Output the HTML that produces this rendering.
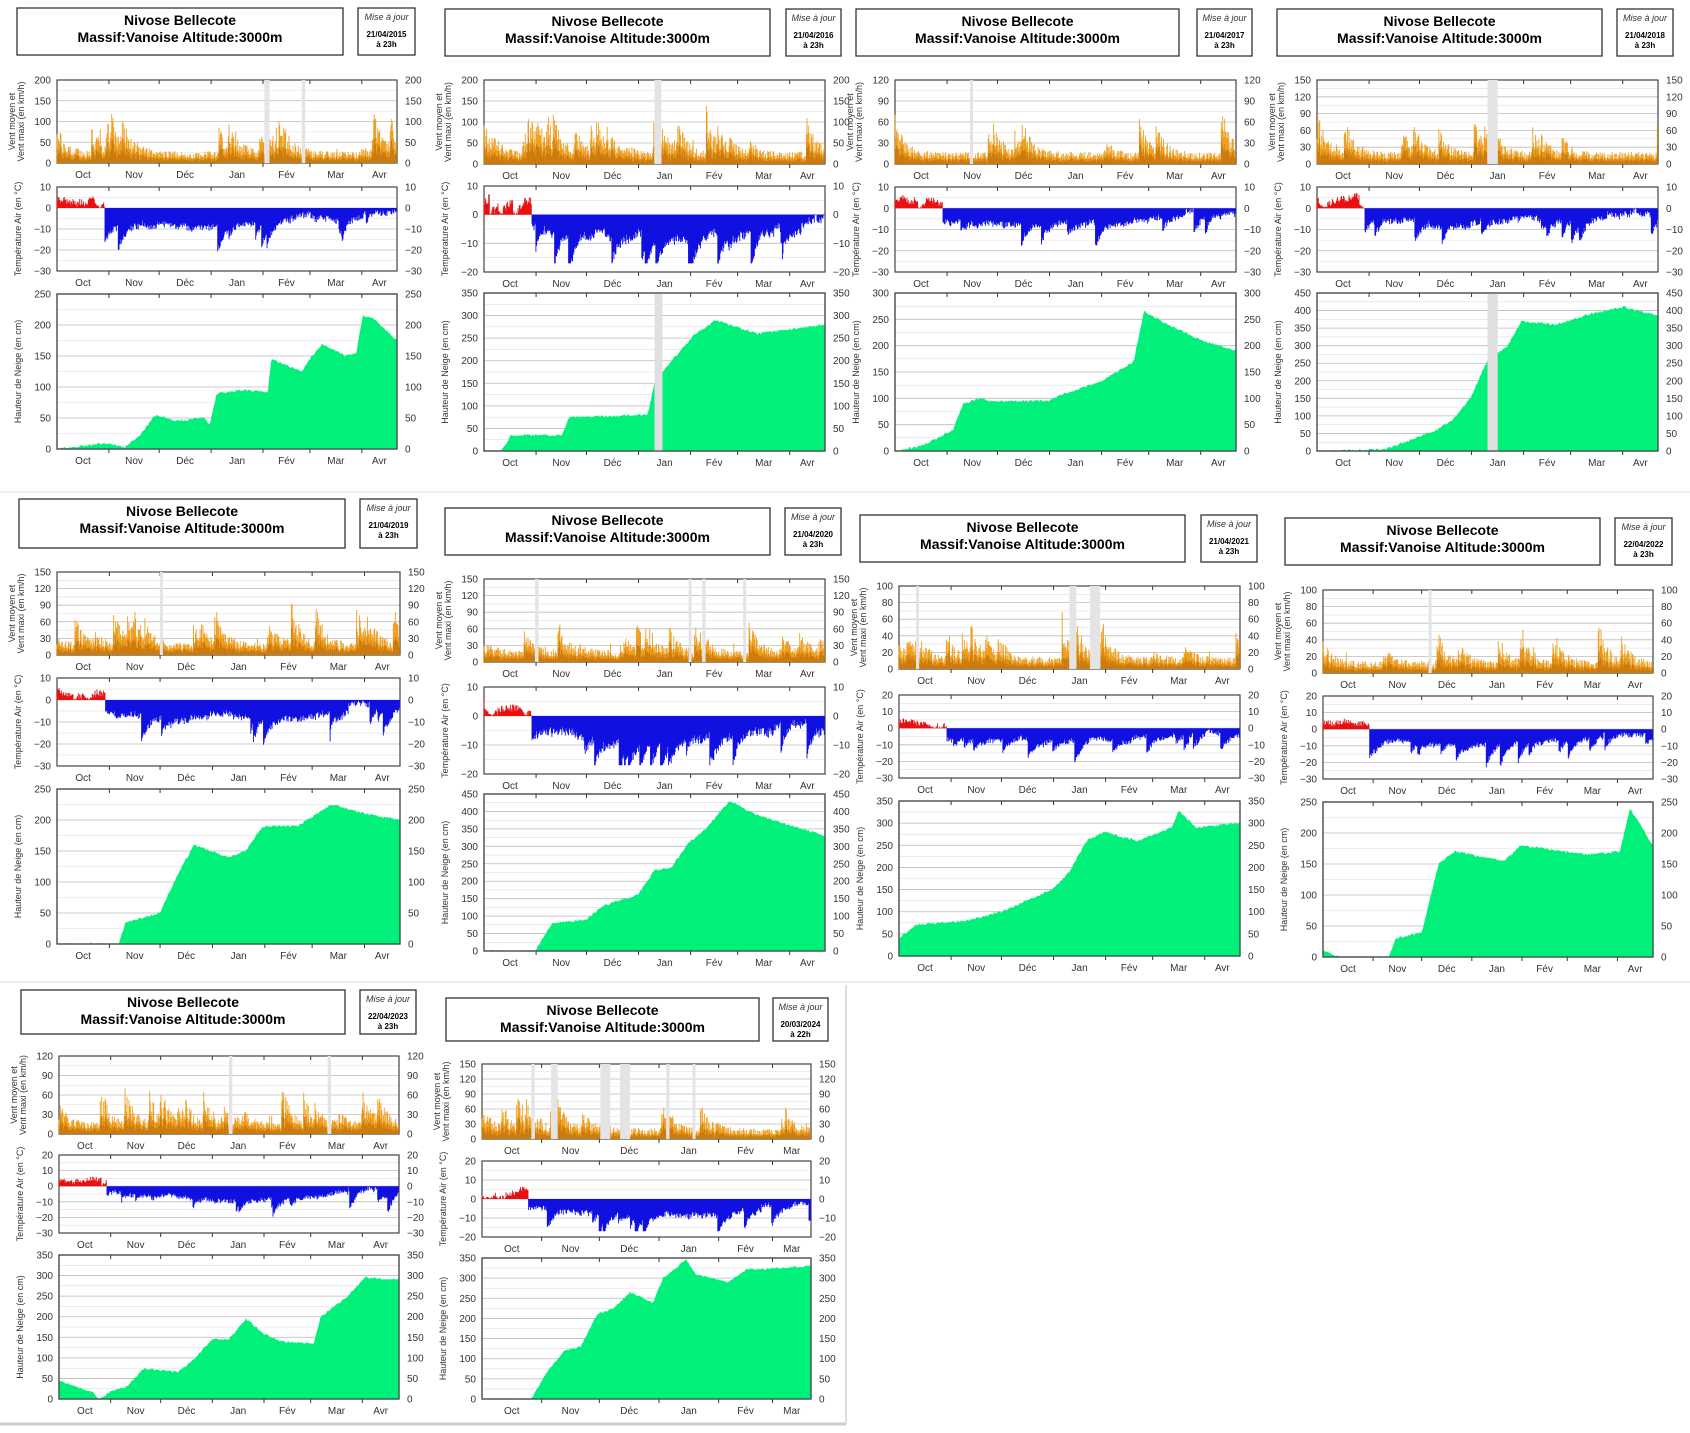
<!DOCTYPE html>
<html><head><meta charset="utf-8">
<style>
html,body{margin:0;padding:0;background:#fff;}
svg{display:block;font-family:"Liberation Sans",sans-serif;}
</style></head>
<body>
<svg id="s" width="1690" height="1433" xmlns="http://www.w3.org/2000/svg"></svg>
<script>
var S=document.getElementById('s');
var out=[];
var seed=7;
function rnd(){seed=(seed*16807)%2147483647;return (seed-1)/2147483646;}
var P=[
{x0:57,x1:397,tb:[17,343,8,55],mb:[358,415],date:'21/04/2015',h:'23h',w:[80,163,200,50],t:[187,271,-30,10],s:[294,449,250],days:203,
 sn:[[0,0],[.05,3],[.15,10],[.2,3],[.24,20],[.29,55],[.35,45],[.43,50],[.45,40],[.47,90],[.55,95],[.62,92],[.63,145],[.72,125],[.75,150],[.78,170],[.85,150],[.88,155],[.9,215],[.93,210],[1,175]],gaps:[[.61,.625],[.72,.73]]},
{x0:484,x1:825,tb:[445,770,9,56],mb:[786,841],date:'21/04/2016',h:'23h',w:[80,164,200,50],t:[186,272,-20,10],s:[293,451,350],days:203,
 sn:[[0,0],[.05,0],[.08,35],[.23,35],[.25,75],[.48,80],[.5,150],[.55,200],[.62,260],[.68,290],[.8,260],[1,280]],gaps:[[.5,.52]]},
{x0:895,x1:1236,tb:[856,1179,9,56],mb:[1197,1252],date:'21/04/2017',h:'23h',w:[80,164,120,30],t:[187,272,-30,10],s:[293,451,300],days:203,
 sn:[[0,0],[.08,10],[.17,40],[.2,90],[.25,100],[.28,95],[.45,95],[.5,110],[.6,130],[.65,150],[.7,170],[.73,265],[.8,240],[.85,225],[.9,210],[1,190]],gaps:[[.22,.225]]},
{x0:1317,x1:1658,tb:[1277,1602,9,56],mb:[1617,1673],date:'21/04/2018',h:'23h',w:[80,164,150,30],t:[187,272,-30,10],s:[293,451,450],days:203,
 sn:[[0,0],[.2,5],[.27,30],[.35,60],[.4,90],[.45,150],[.5,260],[.56,300],[.6,370],[.7,360],[.8,390],[.9,410],[1,385]],gaps:[[.5,.53]]},
{x0:57,x1:400,tb:[19,345,499,548],mb:[360,417],date:'21/04/2019',h:'23h',w:[572,655,150,30],t:[678,766,-30,10],s:[789,944,250],days:203,
 sn:[[0,0],[.18,0],[.2,35],[.3,50],[.35,110],[.4,160],[.5,140],[.55,150],[.6,190],[.7,190],[.8,225],[.9,210],[1,200]],gaps:[[.3,.305]]},
{x0:484,x1:825,tb:[445,770,508,555],mb:[785,841],date:'21/04/2020',h:'23h',w:[579,662,150,30],t:[687,774,-20,10],s:[794,951,450],days:203,
 sn:[[0,0],[.15,0],[.2,80],[.3,90],[.35,130],[.45,160],[.5,230],[.55,240],[.6,310],[.65,350],[.72,430],[.8,390],[1,330]],gaps:[[.15,.16],[.6,.605],[.64,.65],[.76,.765]]},
{x0:899,x1:1240,tb:[860,1185,515,562],mb:[1201,1257],date:'21/04/2021',h:'23h',w:[586,669,100,20],t:[695,778,-30,20],s:[801,956,350],days:203,
 sn:[[0,40],[.05,70],[.2,80],[.3,100],[.45,150],[.5,190],[.55,260],[.6,280],[.7,260],[.8,290],[.82,330],[.87,290],[1,300]],gaps:[[.05,.055],[.5,.52],[.56,.59]]},
{x0:1323,x1:1653,tb:[1285,1600,518,565],mb:[1615,1672],date:'22/04/2022',h:'23h',w:[590,673,100,20],t:[696,779,-30,20],s:[802,957,250],days:204,
 sn:[[0,10],[.05,0],[.2,0],[.22,30],[.3,40],[.35,150],[.4,170],[.55,155],[.6,180],[.8,165],[.9,170],[.93,240],[1,180]],gaps:[[.32,.325]]},
{x0:59,x1:399,tb:[21,345,990,1034],mb:[360,416],date:'22/04/2023',h:'23h',w:[1056,1134,120,30],t:[1155,1233,-30,20],s:[1255,1399,350],days:204,
 sn:[[0,45],[.1,15],[.12,0],[.15,18],[.2,30],[.25,75],[.35,65],[.4,100],[.45,145],[.5,145],[.55,195],[.6,160],[.65,140],[.75,135],[.77,200],[.85,250],[.9,295],[1,290]],gaps:[[.5,.51],[.79,.8]]},
{x0:482,x1:811,tb:[446,759,998,1041],mb:[773,828],date:'20/03/2024',h:'22h',w:[1064,1139,150,30],t:[1161,1237,-20,20],s:[1258,1399,350],days:171,
 sn:[[0,0],[.15,0],[.2,70],[.25,120],[.3,130],[.35,210],[.4,225],[.45,265],[.52,240],[.55,300],[.62,345],[.65,310],[.75,290],[.8,320],[1,330]],gaps:[[.15,.16],[.21,.23],[.36,.39],[.42,.45],[.56,.57],[.64,.645]]}
];
var months=[['Oct',31],['Nov',30],['Déc',31],['Jan',31],['Fév',28],['Mar',31],['Avr',30]];
function interp(a,f){for(var i=1;i<a.length;i++){if(f<=a[i][0]){var t=(f-a[i-1][0])/(a[i][0]-a[i-1][0]);return a[i-1][1]+t*(a[i][1]-a[i-1][1]);}}return a[a.length-1][1];}
function axes(p,y0,y1,lo,hi,step,label,lab2){
  var W=p.x1-p.x0,o='';
  for(var v=lo;v<=hi+1e-9;v+=step){var y=y1-(v-lo)/(hi-lo)*(y1-y0);
    o+='<line x1="'+p.x0+'" x2="'+p.x1+'" y1="'+y+'" y2="'+y+'" stroke="#bbb" stroke-width="0.8"/>';
    var half=step/2, y2=y1-(v+half-lo)/(hi-lo)*(y1-y0); if(v+half<hi) o+='<line x1="'+p.x0+'" x2="'+p.x1+'" y1="'+y2+'" y2="'+y2+'" stroke="#ddd" stroke-width="0.6"/>';
    var t=(v<0?'\u2212'+(-v):v);
    o+='<text x="'+(p.x0-6)+'" y="'+(y+3.5)+'" text-anchor="end" font-size="10" fill="#333">'+t+'</text>';
    o+='<text x="'+(p.x1+8)+'" y="'+(y+3.5)+'" font-size="10" fill="#333">'+t+'</text>';
  }
  var cy=(y0+y1)/2;
  if(lab2){o+='<text transform="translate('+(p.x0-42)+','+cy+') rotate(-90)" text-anchor="middle" font-size="9" fill="#333">'+label+'</text>';
    o+='<text transform="translate('+(p.x0-33)+','+cy+') rotate(-90)" text-anchor="middle" font-size="9" fill="#333">'+lab2+'</text>';}
  else o+='<text transform="translate('+(p.x0-36)+','+cy+') rotate(-90)" text-anchor="middle" font-size="9" fill="#333">'+label+'</text>';
  var d=0,ppd=W/p.days;
  for(var m=0;m<months.length&&d<p.days;m++){var st=d,en=Math.min(d+months[m][1],p.days);
    var xs=p.x0+st*ppd,xe=p.x0+en*ppd;
    if(m>0){o+='<line x1="'+xs+'" x2="'+xs+'" y1="'+y0+'" y2="'+(y0+4)+'" stroke="#333"/><line x1="'+xs+'" x2="'+xs+'" y1="'+y1+'" y2="'+(y1+4)+'" stroke="#333"/>';}
    var lx=(en-st>15)?(xs+xe)/2:(xs+(xs+31*ppd))/2; if(en-st<=15) lx=Math.min(lx,p.x1-10);
    o+='<text x="'+lx+'" y="'+(y1+15)+'" text-anchor="middle" font-size="10" fill="#333">'+months[m][0]+'</text>';
    d=en;}
  o+='<rect x="'+p.x0+'" y="'+y0+'" width="'+W+'" height="'+(y1-y0)+'" fill="none" stroke="#444" stroke-width="1.2"/>';
  return o;
}
P.forEach(function(p,pi){
  seed=1000+pi*77;
  var W=p.x1-p.x0,o='';
  var tb=p.tb;
  o+='<rect x="'+tb[0]+'" y="'+tb[2]+'" width="'+(tb[1]-tb[0])+'" height="'+(tb[3]-tb[2])+'" fill="#fff" stroke="#333" stroke-width="1.3"/>';
  var cx=(tb[0]+tb[1])/2;
  o+='<text x="'+cx+'" y="'+(tb[2]+17)+'" text-anchor="middle" font-size="14" font-weight="bold">Nivose Bellecote</text>';
  o+='<text x="'+cx+'" y="'+(tb[2]+34)+'" text-anchor="middle" font-size="14" font-weight="bold">Massif:Vanoise Altitude:3000m</text>';
  var mb=p.mb,mc=(mb[0]+mb[1])/2;
  o+='<rect x="'+mb[0]+'" y="'+tb[2]+'" width="'+(mb[1]-mb[0])+'" height="'+(tb[3]-tb[2])+'" fill="#fff" stroke="#333" stroke-width="1.3"/>';
  o+='<text x="'+mc+'" y="'+(tb[2]+12)+'" text-anchor="middle" font-size="9" font-style="italic" fill="#333">Mise à jour</text>';
  o+='<text x="'+mc+'" y="'+(tb[2]+29)+'" text-anchor="middle" font-size="8" font-weight="bold">'+p.date+'</text>';
  o+='<text x="'+mc+'" y="'+(tb[2]+39)+'" text-anchor="middle" font-size="8" font-weight="bold">à '+p.h+'</text>';
  function inGap(f){for(var g=0;g<p.gaps.length;g++)if(f>=p.gaps[g][0]&&f<=p.gaps[g][1])return true;return false;}
  // wind: storm envelope
  var w=p.w,wy0=w[0],wy1=w[1],wm=w[2];
  o+=axes(p,wy0,wy1,0,wm,w[3],'Vent moyen et','Vent maxi (en km/h)');
  var env=0.1,wp='',wd='',N=Math.round(W*1.5);
  for(var i=0;i<N;i++){var f=i/N,x=p.x0+f*W;
    if(inGap(f)){continue;}
    env=env*0.93+0.01; if(rnd()<0.035) env=Math.max(env,0.2+rnd()*0.5);
    var v=wm*env*(0.35+rnd()*0.65); if(rnd()<0.01)v*=1.6;
    var vm=v*(0.4+rnd()*0.2);
    var y=wy1-Math.min(v,wm)/wm*(wy1-wy0),ym=wy1-vm/wm*(wy1-wy0);
    wp+='M'+x.toFixed(1)+' '+wy1+'V'+y.toFixed(1);
    wd+='M'+x.toFixed(1)+' '+wy1+'V'+ym.toFixed(1);}
  o+='<path d="'+wp+'" stroke="#f0a020" stroke-width="0.9"/><path d="'+wd+'" stroke="#c8780c" stroke-width="0.6"/>';
  p.gaps.forEach(function(g){o+='<rect x="'+(p.x0+g[0]*W)+'" y="'+wy0+'" width="'+Math.max(3,(g[1]-g[0])*W)+'" height="'+(wy1-wy0)+'" fill="#e4e4e4"/>';});
  // temp
  var t=p.t,ty0=t[0],ty1=t[1],tl=t[2],th=t[3];
  o+=axes(p,ty0,ty1,tl,th,10,'Température Air (en °C)');
  var zy=ty1-(0-tl)/(th-tl)*(ty1-ty0),rp='',bp='',tmp=0,cold=0;
  for(var i=0;i<N;i++){var f=i/N,x=p.x0+f*W;
    var mean=f<0.14?4:(f<0.85?-5-3*Math.sin((f-0.14)/0.71*Math.PI):-3);
    tmp=tmp*0.97+0.03*(rnd()-0.5)*30;
    cold=cold*0.9; if(rnd()<0.03)cold=-(4+rnd()*10);
    var v=mean+tmp+cold+(rnd()-0.5)*3; if(v<tl+3)v=tl+3; if(f<0.14&&v<0)v=-v*0.3;
    var y=ty1-(v-tl)/(th-tl)*(ty1-ty0);
    if(v>=0)rp+='M'+x.toFixed(1)+' '+zy+'V'+y.toFixed(1);else bp+='M'+x.toFixed(1)+' '+zy+'V'+y.toFixed(1);}
  o+='<path d="'+rp+'" stroke="#e81010" stroke-width="0.9"/><path d="'+bp+'" stroke="#1010e0" stroke-width="0.9"/>';
  // snow
  var s=p.s,sy0=s[0],sy1=s[1],sm=s[2];
  o+=axes(p,sy0,sy1,0,sm,50,'Hauteur de Neige (en cm)');
  var sp='M'+p.x0+' '+sy1;
  for(var i=0;i<=W;i++){var f=i/W,v=interp(p.sn,f)+(rnd()-0.5)*sm*0.015; if(v<0)v=0;
    sp+='L'+(p.x0+i)+' '+(sy1-v/sm*(sy1-sy0)).toFixed(1);}
  sp+='L'+p.x1+' '+sy1+'Z';
  o+='<path d="'+sp+'" fill="#00f07a"/>';
  if(pi==3) p.gaps.forEach(function(g){o+='<rect x="'+(p.x0+g[0]*W)+'" y="'+sy0+'" width="'+(g[1]-g[0])*W+'" height="'+(sy1-sy0)+'" fill="#e0e0e0"/>';});
  if(pi==1) o+='<rect x="'+(p.x0+0.5*W)+'" y="'+sy0+'" width="8" height="'+(sy1-sy0)+'" fill="#e0e0e0"/>';
  o+='<rect x="'+p.x0+'" y="'+sy0+'" width="'+W+'" height="'+(sy1-sy0)+'" fill="none" stroke="#444" stroke-width="1.2"/>';
  out.push(o);
});
out.push('<line x1="0" y1="1424" x2="846" y2="1424" stroke="#ccc" stroke-width="3"/><line x1="846" y1="985" x2="846" y2="1424" stroke="#ddd" stroke-width="2"/>');
out.push('<line x1="0" y1="492" x2="1690" y2="492" stroke="#eee" stroke-width="2"/><line x1="0" y1="982" x2="1690" y2="982" stroke="#eee" stroke-width="2"/>');
S.innerHTML=out.join('');
</script>
</body></html>
